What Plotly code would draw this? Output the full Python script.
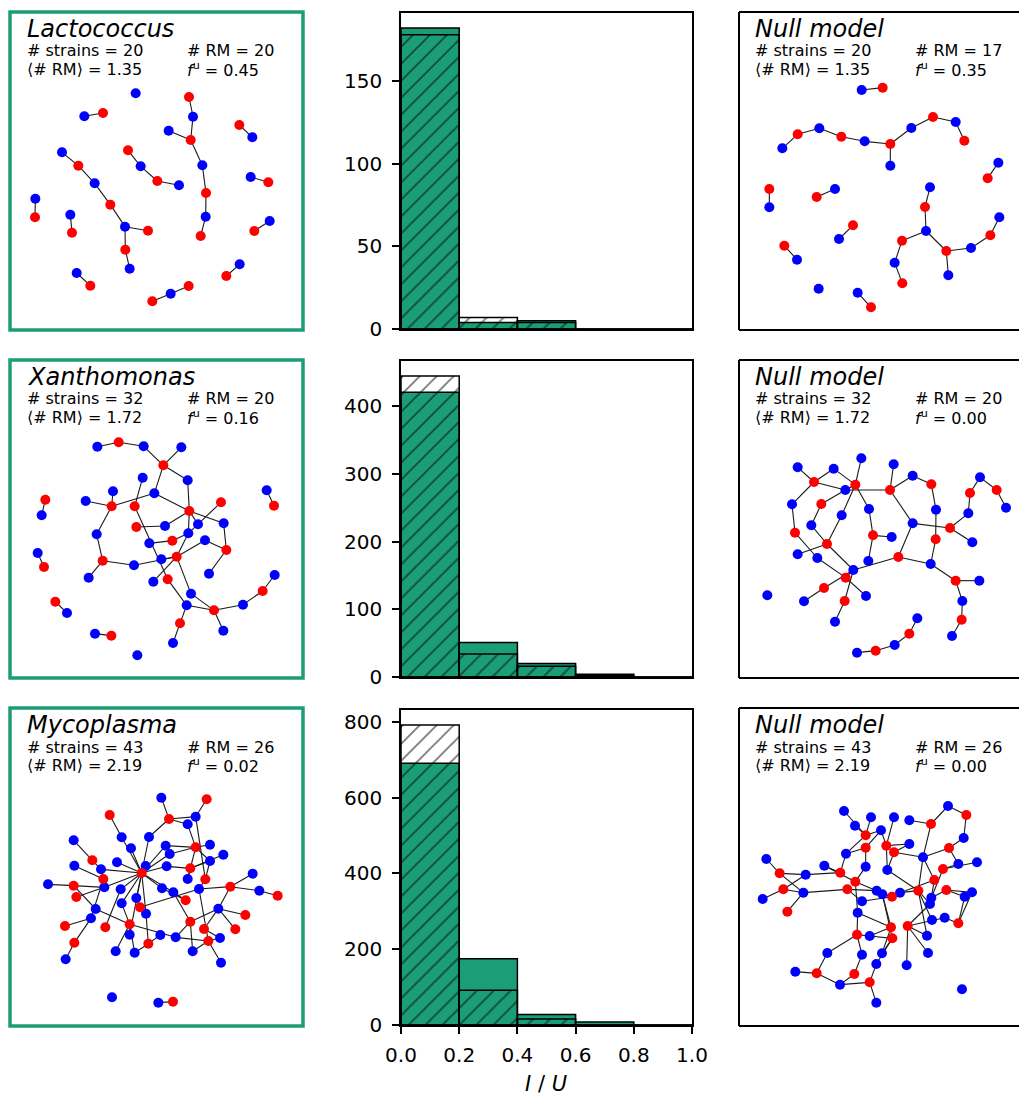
import plotly.graph_objects as go

W, H = 1019, 1096
GREEN = '#1b9e77'
RED = '#ff0000'
BLUE = '#0000ff'
FONT = 'DejaVu Sans'

# ---------------- histogram data (I/U distribution) ----------------
bin_edges = [0.0, 0.2, 0.4, 0.6, 0.8, 1.0]
lacto_obs = [182, 4, 5, 0, 0]
lacto_null = [178, 7, 4, 0, 0]
xantho_obs = [421, 51, 20, 4, 0]
xantho_null = [445, 34, 16, 2, 0]
myco_obs = [691, 175, 28, 8, 0]
myco_null = [792, 92, 16, 0, 0]
hist_yticks = [[0, 50, 100, 150], [0, 100, 200, 300, 400], [0, 200, 400, 600, 800]]
x_ticks = [0.0, 0.2, 0.4, 0.6, 0.8, 1.0]

# ---------------- panel texts ----------------
names = ['Lactococcus', 'Xanthomonas', 'Mycoplasma']
n_strains = [20, 32, 43]
rm_obs = [20, 20, 26]
rm_null = [17, 20, 26]
mean_rm = ['1.35', '1.72', '2.19']
fu_obs = ['0.45', '0.16', '0.02']
fu_null = ['0.35', '0.00', '0.00']

# ---------------- network layouts (node x, y, colour) ----------------
lacto_nodes = [
    (407, 280, 'b'), (253, 349, 'b'), (309, 339, 'r'), (567, 291, 'r'), (579, 350, 'b'),
    (572, 420, 'r'), (506, 392, 'b'), (607, 496, 'b'), (618, 579, 'r'), (617, 650, 'b'),
    (602, 708, 'r'), (718, 375, 'r'), (757, 412, 'b'), (186, 457, 'b'), (235, 497, 'r'),
    (284, 550, 'b'), (331, 614, 'r'), (375, 680, 'b'), (444, 692, 'r'), (376, 749, 'r'),
    (389, 806, 'b'), (384, 451, 'r'), (422, 499, 'b'), (472, 543, 'r'), (537, 556, 'b'),
    (752, 531, 'b'), (805, 547, 'r'), (106, 596, 'b'), (105, 652, 'r'), (211, 644, 'b'),
    (216, 698, 'r'), (809, 663, 'b'), (763, 693, 'r'), (230, 819, 'b'), (271, 857, 'r'),
    (719, 793, 'b'), (679, 828, 'r'), (566, 858, 'r'), (512, 881, 'b'), (457, 904, 'r'),
]
lacto_edges = [(2, 3), (4, 5), (5, 6), (7, 6), (6, 8), (8, 9), (9, 10), (10, 11), (12, 13),
               (14, 15), (15, 16), (16, 17), (17, 18), (18, 19), (18, 20), (20, 21), (22, 23),
               (23, 24), (24, 25), (26, 27), (28, 29), (30, 31), (32, 33), (34, 35), (36, 37),
               (38, 39), (39, 40)]

xantho_nodes = [
    (292, 290, 'b'), (356, 277, 'r'), (431, 289, 'b'), (544, 292, 'b'), (490, 346, 'r'),
    (428, 383, 'b'), (563, 391, 'b'), (339, 424, 'b'), (463, 430, 'b'), (257, 453, 'b'),
    (335, 469, 'r'), (404, 469, 'r'), (568, 483, 'r'), (663, 457, 'r'), (800, 421, 'b'),
    (822, 467, 'r'), (136, 449, 'r'), (125, 496, 'b'), (409, 531, 'r'), (495, 528, 'b'),
    (594, 523, 'b'), (671, 520, 'b'), (290, 553, 'b'), (565, 550, 'b'), (448, 580, 'b'),
    (517, 572, 'r'), (615, 571, 'b'), (679, 600, 'r'), (113, 609, 'b'), (132, 651, 'r'),
    (308, 632, 'r'), (402, 646, 'b'), (484, 628, 'b'), (530, 620, 'r'), (266, 683, 'b'),
    (460, 695, 'b'), (503, 688, 'r'), (627, 671, 'b'), (824, 675, 'b'), (788, 723, 'r'),
    (573, 731, 'b'), (166, 755, 'r'), (201, 789, 'b'), (560, 766, 'b'), (642, 781, 'r'),
    (729, 764, 'b'), (540, 820, 'r'), (670, 842, 'b'), (285, 851, 'b'), (334, 857, 'r'),
    (519, 879, 'b'), (412, 916, 'b'),
]
xantho_edges = [(1, 2), (2, 3), (3, 5), (4, 5), (5, 7), (5, 9), (6, 12), (7, 13), (8, 11),
                (10, 11), (11, 9), (9, 13), (11, 23), (23, 31), (31, 35), (31, 32), (32, 34),
                (33, 34), (12, 37), (19, 20), (20, 13), (25, 26), (24, 26), (24, 13), (13, 22),
                (22, 28), (28, 38), (14, 24), (13, 21), (27, 28), (27, 34), (24, 34), (34, 36),
                (34, 41), (37, 44), (41, 45), (44, 45), (45, 46), (46, 40), (40, 39), (45, 48),
                (44, 47), (47, 51), (17, 18), (29, 30), (42, 43), (49, 50), (15, 16)]

myco_nodes = [
    (484, 293, 'b'), (620, 298, 'r'), (329, 345, 'r'), (507, 357, 'r'), (587, 350, 'b'),
    (563, 373, 'b'), (365, 412, 'b'), (447, 411, 'b'), (221, 421, 'b'), (393, 445, 'b'),
    (497, 437, 'b'), (587, 442, 'r'), (630, 434, 'b'), (509, 462, 'b'), (670, 464, 'b'),
    (277, 481, 'r'), (351, 487, 'b'), (223, 497, 'b'), (303, 508, 'b'), (437, 498, 'b'),
    (500, 499, 'b'), (630, 483, 'b'), (571, 505, 'r'), (425, 519, 'r'), (758, 521, 'b'),
    (310, 537, 'r'), (563, 537, 'b'), (616, 538, 'r'), (144, 553, 'b'), (221, 557, 'r'),
    (313, 562, 'b'), (362, 568, 'b'), (486, 565, 'b'), (520, 577, 'b'), (597, 567, 'b'),
    (691, 560, 'r'), (778, 572, 'b'), (833, 587, 'r'), (229, 591, 'r'), (409, 594, 'b'),
    (365, 610, 'b'), (557, 601, 'r'), (420, 622, 'r'), (287, 627, 'b'), (438, 641, 'b'),
    (655, 626, 'b'), (736, 645, 'r'), (273, 655, 'b'), (195, 678, 'r'), (316, 682, 'r'),
    (389, 673, 'r'), (571, 665, 'r'), (612, 687, 'r'), (706, 688, 'r'), (389, 704, 'b'),
    (481, 705, 'b'), (527, 712, 'b'), (660, 714, 'b'), (223, 728, 'r'), (445, 731, 'r'),
    (625, 723, 'r'), (347, 754, 'b'), (404, 758, 'b'), (578, 754, 'b'), (197, 778, 'b'),
    (663, 788, 'b'), (336, 892, 'b'), (475, 908, 'b'), (519, 905, 'r'),
]
myco_edges = [(24, 8), (24, 10), (24, 17), (24, 19), (24, 31), (24, 32), (24, 40), (24, 41),
              (24, 45), (24, 20), (24, 21), (24, 11), (24, 14), (24, 33), (24, 34), (24, 55),
              (24, 7), (1, 4), (2, 5), (4, 5), (4, 6), (4, 8), (6, 12), (5, 28), (3, 7),
              (9, 16), (16, 19), (18, 26), (19, 26), (29, 30), (30, 31), (30, 44), (39, 31),
              (48, 49), (48, 26), (44, 51), (48, 59), (59, 65), (50, 32), (41, 51), (51, 55),
              (51, 62), (51, 63), (51, 57), (43, 45), (43, 40), (43, 35), (60, 56), (60, 63),
              (60, 45), (12, 11), (12, 13), (12, 22), (12, 14), (12, 27), (23, 21), (23, 15),
              (23, 22), (23, 27), (28, 35), (28, 22), (36, 25), (36, 37), (36, 35), (36, 46),
              (37, 38), (46, 47), (46, 54), (46, 53), (46, 52), (52, 34), (52, 57), (42, 33),
              (42, 34), (61, 58), (61, 64), (61, 57), (61, 35), (53, 58), (61, 66), (52, 64),
              (68, 69)]

lacto_null_nodes = [
    (395, 270, 'b'), (458, 263, 'r'), (157, 445, 'b'), (203, 403, 'r'), (268, 385, 'b'),
    (334, 410, 'r'), (404, 424, 'b'), (481, 432, 'r'), (481, 497, 'b'), (544, 384, 'b'),
    (609, 351, 'r'), (677, 366, 'b'), (703, 422, 'r'), (805, 488, 'b'), (773, 535, 'r'),
    (118, 567, 'r'), (118, 622, 'b'), (260, 591, 'r'), (315, 567, 'b'), (369, 676, 'r'),
    (327, 717, 'b'), (163, 737, 'r'), (201, 779, 'b'), (600, 562, 'b'), (585, 621, 'r'),
    (588, 693, 'b'), (516, 722, 'r'), (494, 788, 'b'), (517, 850, 'r'), (649, 753, 'r'),
    (655, 826, 'b'), (723, 744, 'b'), (781, 706, 'r'), (808, 652, 'b'), (266, 866, 'b'),
    (383, 878, 'b'), (423, 922, 'r'),
]
lacto_null_edges = [(1, 2), (3, 4), (4, 5), (5, 6), (6, 7), (7, 8), (8, 9), (8, 10), (10, 11),
                    (11, 12), (12, 13), (14, 15), (16, 17), (18, 19), (20, 21), (22, 23),
                    (24, 25), (25, 26), (26, 27), (27, 28), (28, 29), (26, 30), (30, 31),
                    (30, 32), (32, 33), (33, 34), (36, 37)]

xantho_null_nodes = [
    (203, 352, 'b'), (311, 356, 'b'), (394, 325, 'b'), (491, 343, 'b'), (252, 396, 'r'),
    (376, 404, 'r'), (346, 420, 'b'), (480, 420, 'r'), (548, 377, 'b'), (604, 403, 'r'),
    (750, 382, 'b'), (720, 429, 'r'), (800, 420, 'r'), (828, 473, 'b'), (186, 463, 'b'),
    (274, 462, 'r'), (335, 496, 'b'), (417, 477, 'b'), (618, 479, 'b'), (715, 490, 'b'),
    (244, 526, 'b'), (548, 520, 'b'), (660, 534, 'r'), (195, 548, 'r'), (429, 556, 'r'),
    (485, 561, 'b'), (617, 568, 'r'), (727, 577, 'b'), (291, 582, 'r'), (203, 613, 'b'),
    (262, 624, 'b'), (505, 621, 'r'), (415, 633, 'b'), (602, 642, 'b'), (370, 660, 'b'),
    (347, 683, 'r'), (677, 692, 'r'), (748, 692, 'b'), (282, 714, 'r'), (112, 736, 'b'),
    (408, 738, 'b'), (222, 754, 'b'), (344, 753, 'r'), (697, 753, 'b'), (315, 815, 'b'),
    (695, 809, 'r'), (562, 805, 'b'), (538, 851, 'r'), (666, 858, 'b'), (494, 885, 'b'),
    (437, 902, 'r'), (381, 908, 'b'),
]
xantho_null_edges = [(1, 5), (5, 2), (2, 6), (3, 6), (5, 7), (6, 7), (7, 8), (6, 17), (6, 18),
                     (4, 8), (8, 9), (9, 10), (10, 19), (19, 27), (8, 22), (22, 23), (22, 32),
                     (27, 34), (23, 20), (20, 12), (12, 11), (11, 13), (13, 14), (23, 28),
                     (5, 15), (15, 24), (16, 21), (16, 7), (21, 29), (29, 30), (29, 17),
                     (18, 25), (25, 26), (25, 33), (32, 35), (32, 34), (34, 37), (37, 38),
                     (37, 44), (44, 46), (46, 49), (35, 36), (36, 41), (35, 39), (39, 42),
                     (35, 43), (43, 45), (24, 31), (31, 36), (29, 35), (47, 48), (48, 50),
                     (50, 51), (51, 52)]

myco_null_nodes = [
    (342, 333, 'b'), (423, 352, 'b'), (492, 352, 'b'), (538, 361, 'b'), (654, 318, 'b'),
    (709, 345, 'r'), (603, 372, 'r'), (375, 377, 'b'), (453, 391, 'b'), (407, 406, 'r'),
    (701, 414, 'b'), (407, 443, 'r'), (469, 437, 'r'), (538, 432, 'b'), (492, 457, 'r'),
    (657, 444, 'r'), (348, 461, 'b'), (579, 472, 'b'), (109, 477, 'b'), (685, 492, 'b'),
    (741, 487, 'b'), (283, 497, 'b'), (407, 500, 'b'), (149, 520, 'r'), (227, 524, 'b'),
    (331, 518, 'r'), (472, 510, 'b'), (639, 507, 'r'), (376, 545, 'r'), (613, 540, 'r'),
    (160, 568, 'r'), (220, 578, 'b'), (352, 568, 'r'), (440, 572, 'b'), (457, 583, 'b'),
    (486, 590, 'r'), (510, 578, 'b'), (565, 572, 'r'), (649, 570, 'r'), (726, 577, 'b'),
    (704, 590, 'b'), (98, 597, 'b'), (604, 593, 'b'), (396, 604, 'b'), (600, 612, 'b'),
    (172, 635, 'r'), (383, 638, 'b'), (606, 660, 'b'), (644, 653, 'b'), (685, 670, 'r'),
    (483, 682, 'r'), (533, 678, 'r'), (381, 704, 'r'), (419, 708, 'b'), (487, 715, 'r'),
    (591, 707, 'b'), (292, 759, 'b'), (396, 764, 'b'), (456, 760, 'b'), (594, 759, 'b'),
    (439, 792, 'b'), (530, 796, 'b'), (196, 815, 'b'), (260, 820, 'r'), (373, 822, 'r'),
    (330, 854, 'b'), (419, 847, 'r'), (696, 868, 'b'), (439, 908, 'b'),
]
myco_null_edges = [(1, 10), (8, 10), (9, 10), (2, 10), (10, 17), (12, 17), (12, 9), (12, 23),
                   (13, 9), (13, 14), (13, 27), (13, 3), (15, 14), (15, 18), (15, 27), (7, 4),
                   (7, 5), (5, 6), (6, 11), (11, 16), (7, 18), (16, 18), (16, 20), (28, 20),
                   (28, 21), (28, 43), (30, 18), (30, 37), (30, 43), (38, 37), (38, 18),
                   (39, 41), (39, 43), (39, 40), (17, 26), (22, 26), (25, 26), (24, 19),
                   (24, 25), (24, 32), (31, 25), (31, 32), (31, 42), (32, 46), (32, 33),
                   (33, 34), (33, 44), (29, 34), (29, 23), (29, 47), (29, 22), (36, 35),
                   (36, 34), (36, 37), (36, 44), (27, 38), (38, 45), (38, 48), (52, 45),
                   (52, 49), (50, 41), (50, 49), (50, 40), (51, 35), (51, 47), (51, 54),
                   (51, 59), (52, 56), (52, 60), (52, 62), (55, 54), (55, 35), (53, 54),
                   (53, 57), (53, 47), (53, 58), (57, 64), (55, 59), (55, 61), (64, 63),
                   (64, 66), (65, 58), (65, 66), (67, 66), (67, 61), (67, 69), (38, 56)]

# ---------------- figure construction ----------------
def px(x):
    return x / W


def py(y):
    return 1 - y / H


fig = go.Figure()
layout = {}
shapes = []
annotations = []
axis_count = [0]

row_tops = [12, 360, 708]
row_bottoms = [330, 678, 1026]
crop_y = [0, 350, 700]


def add_network(nodes, edges, crop, box):
    axis_count[0] += 1
    i = axis_count[0]
    cx, cy = crop
    x0, y0, x1, y1 = box
    vx1 = min(x1, W)
    layout[f'xaxis{i}'] = dict(domain=[px(x0), px(vx1)], range=[(x0 - cx) * 3, (vx1 - cx) * 3],
                               visible=False, anchor=f'y{i}', fixedrange=True, automargin=False)
    layout[f'yaxis{i}'] = dict(domain=[py(y1), py(y0)], range=[(y1 - cy) * 3, (y0 - cy) * 3],
                               visible=False, anchor=f'x{i}', fixedrange=True, automargin=False)
    ex, ey = [], []
    for a, b in edges:
        na, nb = nodes[a - 1], nodes[b - 1]
        ex += [na[0], nb[0], None]
        ey += [na[1], nb[1], None]
    fig.add_trace(go.Scatter(x=ex, y=ey, mode='lines', line=dict(color='#1a1a1a', width=1.1),
                             hoverinfo='skip', xaxis=f'x{i}', yaxis=f'y{i}'))
    for col, c in (('b', BLUE), ('r', RED)):
        pts = [n for n in nodes if n[2] == col]
        fig.add_trace(go.Scatter(x=[p[0] for p in pts], y=[p[1] for p in pts], mode='markers',
                                 marker=dict(color=c, size=10, line=dict(width=0)),
                                 xaxis=f'x{i}', yaxis=f'y{i}'))


def add_texts(title, strains, rm, mrm, fu, left, top):
    annotations.append(dict(text=f'<i>{title}</i>', x=px(left + 16), y=py(top + 16.5),
                            xref='paper', yref='paper', xanchor='left', yanchor='middle',
                            showarrow=False, borderpad=0,
                            font=dict(family=FONT, size=24, color='black')))
    small = dict(family=FONT, size=16, color='black')
    annotations.append(dict(text=f'# strains = {strains}', x=px(left + 16), y=py(top + 39),
                            xref='paper', yref='paper', xanchor='left', yanchor='middle',
                            showarrow=False, borderpad=0, font=small))
    annotations.append(dict(text=f'⟨# RM⟩ = {mrm}', x=px(left + 16), y=py(top + 57),
                            xref='paper', yref='paper', xanchor='left', yanchor='middle',
                            showarrow=False, borderpad=0, font=small))
    annotations.append(dict(text=f'# RM = {rm}', x=px(left + 176), y=py(top + 39),
                            xref='paper', yref='paper', xanchor='left', yanchor='middle',
                            showarrow=False, borderpad=0, font=small))
    annotations.append(dict(text=f'<i>f</i><sup>u</sup> = {fu}', x=px(left + 176),
                            y=py(top + 57), xref='paper', yref='paper', xanchor='left',
                            yanchor='middle', showarrow=False, borderpad=0, font=small))


def add_hist(obs, null, yticks, r, bottom):
    axis_count[0] += 1
    i = axis_count[0]
    top, bot = [13, 361, 710][r], [329, 677, 1025][r]
    ymax = 1.05 * max(max(obs), max(null))
    tf = dict(family=FONT, size=20, color='black')
    xa = dict(domain=[px(401), px(692)], range=[0, 1], anchor=f'y{i}',
              showline=True, mirror=True, linecolor='black', linewidth=1.5,
              showgrid=False, zeroline=False, fixedrange=True, automargin=False)
    if bottom:
        xa.update(ticks='outside', tickvals=x_ticks, ticktext=[f'{v:.1f}' for v in x_ticks],
                  ticklen=7, tickwidth=1.5, tickcolor='black', tickfont=tf,
                  ticklabelstandoff=4)
    else:
        xa.update(ticks='', tickvals=[], showticklabels=False)
    layout[f'xaxis{i}'] = xa
    layout[f'yaxis{i}'] = dict(domain=[py(bot), py(top)], range=[0, ymax], anchor=f'x{i}',
                               showline=True, mirror=True, linecolor='black', linewidth=1.5,
                               showgrid=False, zeroline=False, ticks='outside',
                               tickvals=yticks, ticklen=7, tickwidth=1.5, tickcolor='black',
                               tickfont=tf, ticklabelstandoff=6, fixedrange=True,
                               automargin=False)
    centers = [(bin_edges[k] + bin_edges[k + 1]) / 2 for k in range(len(bin_edges) - 1)]
    width = bin_edges[1] - bin_edges[0]
    fig.add_trace(go.Bar(x=centers, y=obs, width=width,
                         marker=dict(color=GREEN, line=dict(color='black', width=1.5)),
                         xaxis=f'x{i}', yaxis=f'y{i}'))
    fig.add_trace(go.Bar(x=centers, y=null, width=width,
                         marker=dict(color='rgba(0,0,0,0)', line=dict(color='black', width=1.5),
                                     pattern=dict(shape='/', fgcolor='black',
                                                  bgcolor='rgba(0,0,0,0)', size=12,
                                                  solidity=0.16)),
                         xaxis=f'x{i}', yaxis=f'y{i}'))


obs_nets = [(lacto_nodes, lacto_edges), (xantho_nodes, xantho_edges), (myco_nodes, myco_edges)]
null_nets = [(lacto_null_nodes, lacto_null_edges), (xantho_null_nodes, xantho_null_edges),
             (myco_null_nodes, myco_null_edges)]
hists = [(lacto_obs, lacto_null), (xantho_obs, xantho_null), (myco_obs, myco_null)]

frame_line = dict(color='black', width=2)
for r in range(3):
    top, bot = row_tops[r], row_bottoms[r]
    add_network(obs_nets[r][0], obs_nets[r][1], (0, crop_y[r]), (10, top, 303, bot))
    shapes.append(dict(type='rect', xref='paper', yref='paper', x0=px(10), x1=px(303),
                       y0=py(bot), y1=py(top), line=dict(color=GREEN, width=3.5)))
    add_texts(names[r], n_strains[r], rm_obs[r], mean_rm[r], fu_obs[r], 10, top)
    add_hist(hists[r][0], hists[r][1], hist_yticks[r], r, r == 2)
    add_network(null_nets[r][0], null_nets[r][1], (730, crop_y[r]), (739, top, 1032, bot))
    for (xa0, ya0, xa1, ya1) in ((739, top, W, top), (739, bot, W, bot), (739, top, 739, bot)):
        shapes.append(dict(type='line', xref='paper', yref='paper', x0=px(xa0), x1=px(xa1),
                           y0=py(ya0), y1=py(ya1), line=frame_line))
    add_texts('Null model', n_strains[r], rm_null[r], mean_rm[r], fu_null[r], 738, top)

annotations.append(dict(text='<i>I</i> / <i>U</i>', x=px(546), y=py(1084), xref='paper',
                        yref='paper', xanchor='center', yanchor='middle', showarrow=False,
                        font=dict(family=FONT, size=21, color='black')))

fig.update_layout(width=W, height=H,
                  margin=dict(l=0, r=0, t=0, b=0, pad=0, autoexpand=False),
                  paper_bgcolor='white', plot_bgcolor='white', showlegend=False,
                  barmode='overlay', shapes=shapes, annotations=annotations,
                  font=dict(family=FONT, color='black'), **layout)

fig.write_html('out.html')
